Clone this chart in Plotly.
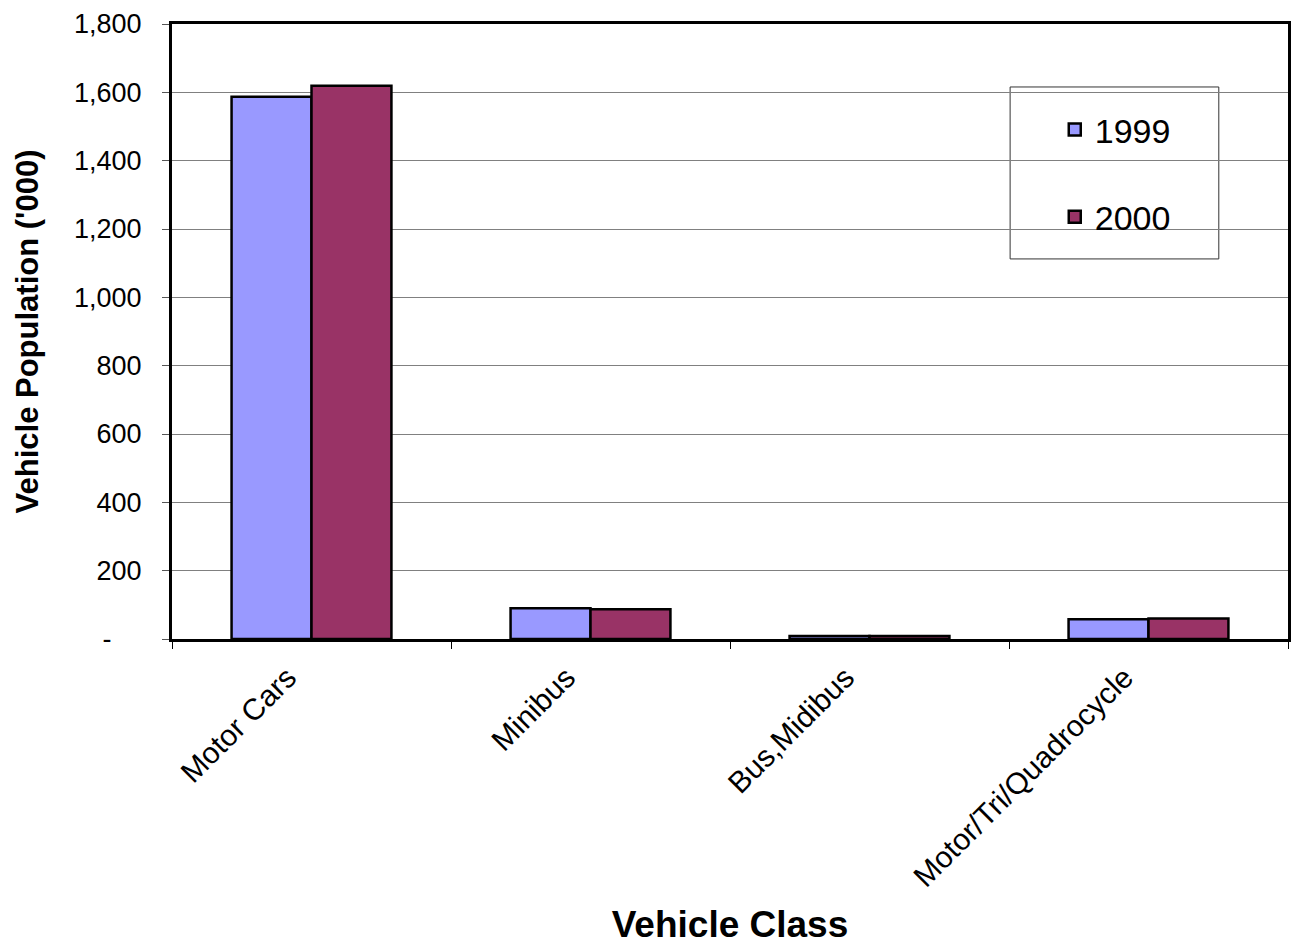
import plotly.graph_objects as go

categories = ["Motor Cars", "Minibus", "Bus,Midibus", "Motor/Tri/Quadrocycle"]
values_1999 = [1587, 90, 9, 58]
values_2000 = [1619, 87, 9, 60]
y_tick_values = [0, 200, 400, 600, 800, 1000, 1200, 1400, 1600, 1800]
y_tick_labels = ["-\u00a0\u00a0\u00a0\u00a0", "200", "400", "600", "800", "1,000", "1,200", "1,400", "1,600", "1,800"]

FONT = "Liberation Sans, Arial, sans-serif"

fig = go.Figure()
fig.add_trace(go.Bar(
    x=categories, y=values_1999, name="1999", legendgroup="a",
    marker=dict(color="#9999FF", line=dict(color="black", width=2.5)),
))
fig.add_trace(go.Bar(
    x=categories, y=values_2000, name="2000", legendgroup="b",
    marker=dict(color="#993366", line=dict(color="black", width=2.5)),
))

fig.update_layout(
    width=1291, height=945,
    margin=dict(l=172, r=3, t=24, b=306),
    paper_bgcolor="white", plot_bgcolor="white",
    barmode="group", bargap=0.427, bargroupgap=0,
    font=dict(family=FONT, color="black"),
    showlegend=True,
    legend=dict(
        x=0.791, y=0.875, xanchor="left", yanchor="top",
        bgcolor="rgba(0,0,0,0)", borderwidth=0,
        font=dict(size=34, family=FONT, color="black"),
        traceorder="grouped", tracegroupgap=40,
    ),
    shapes=[dict(
        type="rect", xref="paper", yref="paper",
        x0=0.751, x1=0.938, y0=0.618, y1=0.8976,
        line=dict(color="#333333", width=1), fillcolor="rgba(0,0,0,0)", layer="below",
    )],
)

fig.update_xaxes(
    type="category", range=[-0.5, 3.5], automargin=False,
    showline=True, linecolor="black", linewidth=3, mirror=True,
    ticks="outside", tickson="boundaries", ticklen=7, tickcolor="black", tickwidth=1,
    tickangle=-45, tickfont=dict(size=30, family=FONT), ticklabelstandoff=6, ticklabelshift=-24,
    showgrid=False,
    title=dict(text="<b>Vehicle Class</b>", font=dict(size=37, family=FONT), standoff=30),
)
fig.update_yaxes(
    range=[0, 1800], automargin=False,
    tickvals=y_tick_values, ticktext=y_tick_labels,
    showline=True, linecolor="black", linewidth=3, mirror=True,
    ticks="outside", ticklen=7, tickcolor="#555555", tickwidth=1,
    tickfont=dict(size=27, family=FONT), ticklabelstandoff=15,
    showgrid=True, gridcolor="#808080", gridwidth=1, zeroline=False,
    title=dict(text="<b>Vehicle Population ('000)</b>", font=dict(size=31, family=FONT), standoff=27),
)

fig.write_html("out.html")
